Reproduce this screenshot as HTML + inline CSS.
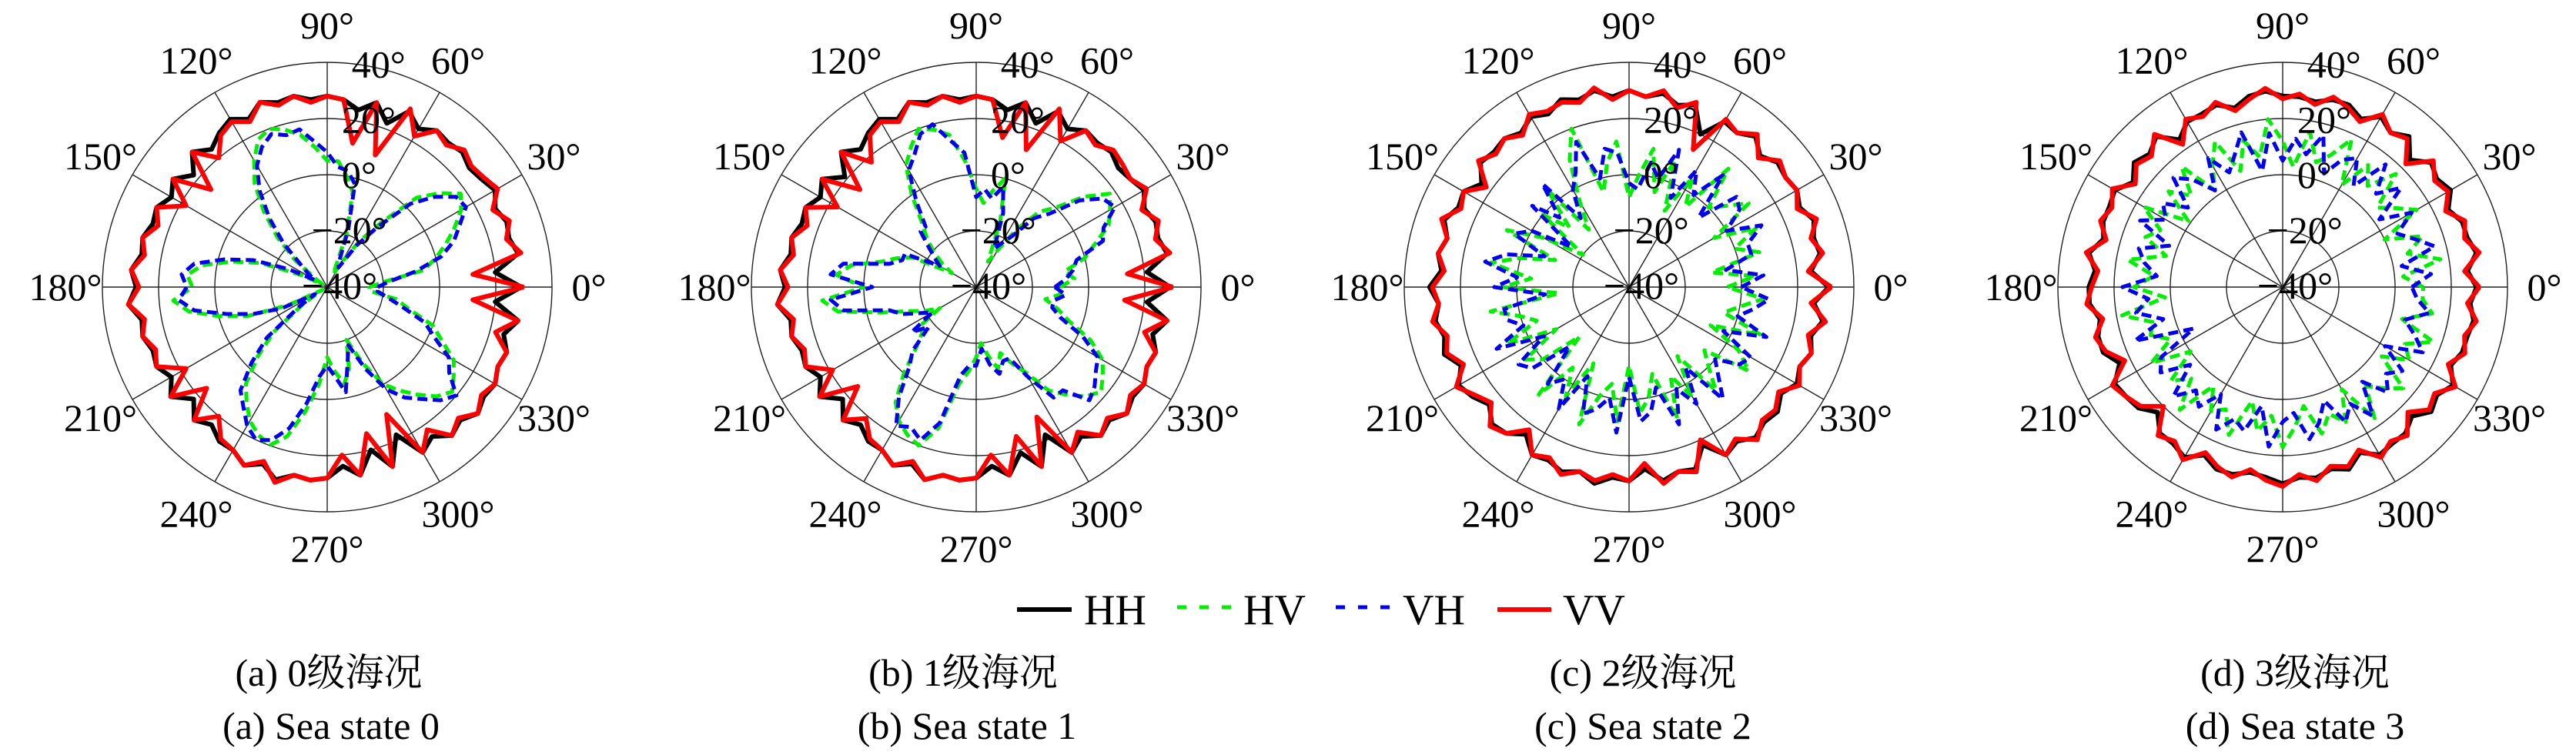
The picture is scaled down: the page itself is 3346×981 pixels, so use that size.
<!DOCTYPE html>
<html><head><meta charset="utf-8"><style>
html,body{margin:0;padding:0;background:#fff;}
svg{display:block;font-family:"Liberation Serif","Noto Serif CJK SC",serif;}
svg text{font-family:"Liberation Serif","Noto Serif CJK SC",serif;fill:#000;}
</style></head><body>
<svg id="fig" width="3346" height="981" viewBox="0 0 3346 981" xmlns="http://www.w3.org/2000/svg" font-family="Liberation Serif, Noto Serif CJK SC, serif">
<g id="plots"></g>
<g>
 <line x1="1321" y1="792" x2="1392" y2="792" stroke="#000" stroke-width="6"/>
 <text x="1408" y="811" font-size="56">HH</text>
 <line x1="1529" y1="789" x2="1599" y2="789" stroke="#00ee00" stroke-width="5" stroke-dasharray="12,17"/>
 <text x="1615" y="811" font-size="56">HV</text>
 <line x1="1735" y1="789" x2="1806" y2="789" stroke="#0000ee" stroke-width="5" stroke-dasharray="12,17"/>
 <text x="1822" y="811" font-size="56">VH</text>
 <line x1="1945" y1="792" x2="2015" y2="792" stroke="#ff0000" stroke-width="6"/>
 <text x="2030" y="811" font-size="56">VV</text>
</g>
<g font-size="50" text-anchor="middle">
 <text x="427" y="891">(a) 0级海况</text>
 <text x="430" y="960">(a) Sea state 0</text>
 <text x="1251" y="891">(b) 1级海况</text>
 <text x="1256" y="960">(b) Sea state 1</text>
 <text x="2134" y="891">(c) 2级海况</text>
 <text x="2134" y="960">(c) Sea state 2</text>
 <text x="2981" y="891">(d) 3级海况</text>
 <text x="2981" y="960">(d) Sea state 3</text>
</g>
</svg>
<script>
// angles in degrees (5° step)
const angles = Array.from({length:72},(_,i)=>i*5);
const rTicks = [-40,-20,0,20,40];
const thetaTicks = [0,30,60,90,120,150,180,210,240,270,300,330];

// Sea state 0
const vv0 = [30,12,30,26,29,25,30,28,27,29,26,28,22,30,10,28,12,27,28,26,29,27,30,25,28,26,20,28,14,27,18,27,24,28,26,30,27,31,26,28,25,27,18,28,16,27,20,26,27,30,26,32,28,29,28,20,28,14,28,10,28,22,29,26,30,27,29,27,28,22,29,12];
const hh0 = [29,20,29,27,28,26,29,27,26,28,27,28,25,29,22,28,24,27,28,27,29,28,30,26,29,27,24,28,22,27,24,27,26,28,27,30,28,31,27,28,26,27,24,28,22,27,24,27,27,30,27,31,28,29,28,24,28,20,28,18,28,25,29,27,30,28,29,27,28,25,29,20];
const hv0 = [-25,-20,-5,0,5,10,15,18,12,5,-10,-20,-30,-35,-20,-5,0,5,5,10,15,18,20,18,12,5,-5,-15,-25,-35,-38,-30,-15,-5,5,10,8,15,10,0,-10,-25,-38,-30,-15,-5,5,10,15,18,20,15,5,-5,-15,-10,-5,-10,-20,-10,0,5,10,15,18,15,12,5,0,-10,-15,-25];
const vh0 = [-22,-18,-8,2,8,12,17,16,10,2,-12,-22,-32,-30,-18,-2,2,3,8,12,17,16,18,15,10,2,-8,-18,-28,-32,-35,-25,-12,-2,8,12,10,13,8,-3,-12,-22,-35,-28,-12,-2,8,12,17,20,18,12,2,-8,-12,-8,-2,-12,-18,-8,2,8,12,17,20,13,10,2,-3,-12,-18,-22];

// Sea state 1
const vv1 = [30,14,30,26,29,25,30,27,28,29,26,28,20,30,12,28,14,27,28,26,29,27,30,25,28,26,18,28,14,27,17,27,24,28,26,30,27,31,26,28,25,27,19,28,15,27,21,26,27,30,26,31,28,29,28,20,28,15,28,11,28,23,29,26,30,27,29,27,28,22,29,13];
const hh1 = [29,21,29,27,28,26,29,27,26,28,27,28,25,29,22,28,24,27,28,27,29,28,30,26,29,27,24,28,21,27,24,27,26,28,27,30,28,31,27,28,26,27,24,28,22,27,24,27,27,30,27,31,28,29,28,24,28,21,28,18,28,25,29,27,30,28,29,27,28,25,29,21];
const hv1 = [-10,-5,-8,0,5,12,15,18,10,0,-5,-15,-25,-30,-15,0,-5,-10,-5,5,15,18,20,15,10,0,-10,-15,-20,-25,-30,-15,-10,-5,5,10,0,15,10,-5,-15,-20,-25,-15,-15,-10,0,10,15,18,20,12,-5,-10,-15,-20,-15,-10,-15,-10,-5,5,10,15,18,15,12,5,-5,-10,-15,-10];
const vh1 = [-12,-8,-5,-3,8,10,17,15,8,-3,-8,-18,-22,-25,-12,-3,-8,-5,-8,8,13,20,18,12,8,-3,-12,-12,-18,-22,-25,-12,-12,-8,8,12,-3,12,8,-8,-12,-18,-22,-12,-18,-8,-3,8,17,15,18,10,-8,-12,-12,-18,-12,-8,-12,-12,-3,8,8,17,15,12,10,2,-8,-12,-12,-8];

// Sea state 2
const vv2 = [32,24,30,27,31,26,29,28,30,25,31,27,29,14,30,26,31,28,30,27,32,28,30,29,31,26,29,27,30,22,28,26,31,27,29,26,30,28,31,27,29,25,31,27,24,30,28,22,29,27,31,28,30,27,29,23,31,28,30,20,29,26,31,27,28,25,30,27,29,26,31,25];
const hh2 = [31,25,29,28,30,27,29,28,29,26,30,27,28,20,29,27,30,28,30,28,31,29,31,28,30,27,29,28,29,24,28,27,30,27,29,27,31,28,30,28,30,26,30,28,25,29,28,24,29,28,30,28,31,28,29,25,30,28,29,22,29,27,30,28,29,26,29,27,29,27,30,26];
const hv2 = [-5,5,-10,8,0,10,-5,12,5,0,15,-5,5,-10,8,-5,10,0,-8,12,5,-5,20,10,-5,-15,5,-10,0,-20,-5,8,-12,0,10,-5,5,-15,10,0,-5,8,-10,5,0,-15,10,-5,5,-10,12,0,-5,8,-12,5,0,-8,10,-5,5,-10,8,0,-5,12,5,-8,10,-5,0,8];
const vh2 = [0,8,-5,5,5,12,0,8,10,-5,12,0,8,-5,12,0,5,-5,-3,8,10,0,15,5,0,-10,8,-5,5,-15,0,5,-8,5,12,0,8,-10,5,5,0,12,-5,8,5,-10,5,0,10,-5,8,5,0,12,-8,8,5,-3,12,0,8,-5,12,5,0,8,10,-3,12,0,5,10];

// Sea state 3
const vv3 = [30,25,31,27,29,24,28,26,30,22,29,27,31,25,28,30,26,29,27,31,28,25,30,27,29,22,31,26,28,24,30,27,29,25,31,26,28,30,25,29,27,22,30,28,26,20,29,27,31,25,28,30,26,29,31,27,30,26,28,24,30,27,29,23,28,26,31,25,29,27,30,26];
const hh3 = [29,26,30,28,28,25,29,27,29,24,30,27,30,26,29,29,27,28,28,30,29,26,29,28,28,24,30,27,29,25,29,28,28,26,30,27,29,29,26,28,28,24,29,28,27,23,28,28,30,26,29,29,27,28,30,28,29,27,29,25,29,28,28,25,29,27,30,26,28,28,29,27];
const hv3 = [10,3,17,6,13,0,15,9,4,17,7,13,2,18,10,6,16,3,12,20,7,14,4,17,10,2,16,6,13,1,17,8,12,3,16,6,13,2,18,8,10,4,14,0,12,6,17,3,11,8,16,2,12,6,17,10,3,14,8,13,2,17,6,11,16,3,12,8,17,4,14,10];
const vh3 = [6,13,3,16,10,5,13,2,15,7,17,4,13,10,3,16,8,13,5,15,2,17,10,5,13,2,10,15,4,12,8,16,3,13,10,5,17,8,13,4,16,-5,10,13,3,15,8,12,4,16,10,13,3,17,8,5,15,10,3,13,8,16,4,13,8,12,2,15,10,5,13,8];

const plotCenters = [[425,373],[1268,373],[2116,373],[2965,373]];
const plotSeries = [
  {name:'sea-state-0', hh:hh0, hv:hv0, vh:vh0, vv:vv0},
  {name:'sea-state-1', hh:hh1, hv:hv1, vh:vh1, vv:vv1},
  {name:'sea-state-2', hh:hh2, hv:hv2, vh:vh2, vv:vv2},
  {name:'sea-state-3', hh:hh3, hv:hv3, vh:vh3, vv:vv3}
];

const NS = 'http://www.w3.org/2000/svg';
const FONT = '"Liberation Serif", "Noto Serif CJK SC", serif';
const R = 292, RMIN = -40, RMAX = 40;
function rScale(v){ const c = Math.max(RMIN, Math.min(RMAX, v)); return (c - RMIN)/(RMAX - RMIN)*R; }
function pt(cx, cy, deg, v){ const a = deg*Math.PI/180, r = rScale(v); return [cx + r*Math.cos(a), cy - r*Math.sin(a)]; }
function mk(tag, attrs, parent){ const e = document.createElementNS(NS, tag); for (const k in attrs) e.setAttribute(k, attrs[k]); parent.appendChild(e); return e; }

const root = document.getElementById('plots');
const styles = {
  hh:{stroke:'#000000', w:6, dash:null},
  hv:{stroke:'#00ee00', w:5, dash:'13,7'},
  vh:{stroke:'#0000ee', w:5, dash:'13,7'},
  vv:{stroke:'#ff0000', w:6, dash:null}
};

plotCenters.forEach((c, pi) => {
  const [cx, cy] = c;
  const g = mk('g', {}, root);
  
  
  rTicks.slice(1).forEach(t => {
    const ring = mk('circle', {cx:cx, cy:cy, r:rScale(t), fill:'none', stroke:'#222', 'stroke-width':1.4}, g);
    
    
  });
  thetaTicks.forEach(t => {
    const [x2, y2] = pt(cx, cy, t, RMAX);
    const sp = mk('line', {x1:cx, y1:cy, x2:x2, y2:y2, stroke:'#222', 'stroke-width':1.4}, g);
    
    
  });
  ['hh','hv','vh','vv'].forEach(key => {
    const vals = plotSeries[pi][key];
    const pts = angles.map((a, i) => pt(cx, cy, a, vals[i]));
    pts.push(pts[0]);
    const s = styles[key];
    const attrs = {points: pts.map(p => p[0].toFixed(1)+','+p[1].toFixed(1)).join(' '), fill:'none', stroke:s.stroke, 'stroke-width':s.w, 'stroke-linejoin':'round'};
    if (s.dash) attrs['stroke-dasharray'] = s.dash;
    const pl = mk('polyline', attrs, g);
    
    
  });
  thetaTicks.forEach(t => {
    const a = t*Math.PI/180;
    const tx = mk('text', {x:cx + 340*Math.cos(a), y:cy - 340*Math.sin(a) + 17, 'font-size':50, 'text-anchor':'middle', 'font-family':FONT}, g);
    tx.textContent = t + '°';
    
    
  });
  rTicks.forEach(t => {
    const r = rScale(t);
    const a = 80*Math.PI/180;
    const tx = mk('text', {x:cx + r*Math.cos(a) + 16, y:cy - r*Math.sin(a) + 15, 'font-size':50, 'text-anchor':'middle', 'font-family':FONT}, g);
    tx.textContent = (t < 0 ? '\u2212' + Math.abs(t) : t) + '°';
    
    
  });
});
</script>
</body></html>
